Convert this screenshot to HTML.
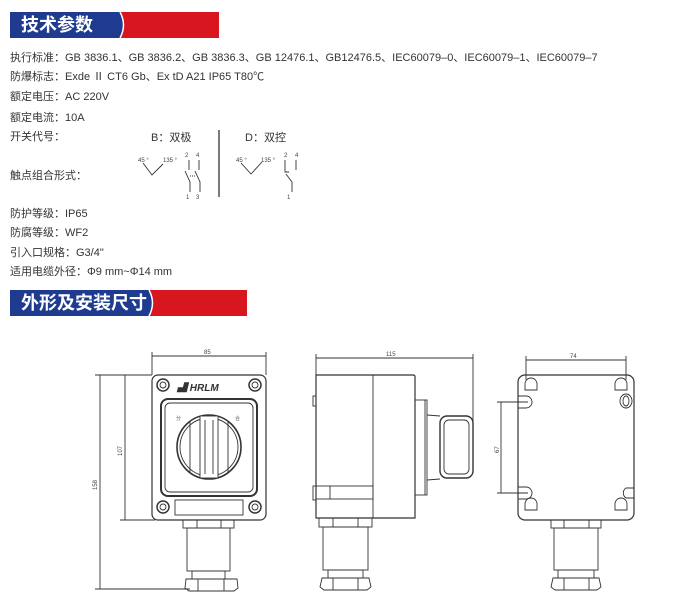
<!DOCTYPE html>
<html><head><meta charset="utf-8"><style>
body{margin:0;width:685px;height:604px;background:#fff;overflow:hidden;font-family:"Liberation Sans","Noto Sans CJK SC",sans-serif;}
.t{position:absolute;left:10px;font-size:11px;color:#333;white-space:nowrap;line-height:12px}
</style></head><body>
<svg width="685" height="604" style="position:absolute;left:0;top:0" font-family="Liberation Sans, Noto Sans CJK SC, sans-serif">
<rect x="10" y="12" width="209" height="26" fill="#d7161f"/>
<path d="M10 12 H120 Q127 25 120 38 H10Z" fill="#1f3b8f"/>
<path d="M120 12 Q127 25 120 38" stroke="#fff" stroke-width="1.5" fill="none"/>
<text x="21" y="31" font-size="18" font-weight="bold" fill="#fff">技术参数</text>
<rect x="10" y="290" width="237" height="26" fill="#d7161f"/>
<path d="M10 290 H149 Q156 303 149 316 H10Z" fill="#1f3b8f"/>
<path d="M149 290 Q156 303 149 316" stroke="#fff" stroke-width="1.5" fill="none"/>
<text x="21" y="309" font-size="18" font-weight="bold" fill="#fff">外形及安装尺寸</text>

<g font-size="11" fill="#333">
<text x="151" y="141">B：双极</text><text x="245" y="141">D：双控</text>
</g>
<line x1="219" y1="130" x2="219" y2="197" stroke="#222" stroke-width="1.2"/>
<g font-size="6" fill="#444">
<text x="138" y="162">45 °</text><text x="163" y="162">135 °</text>
<text x="185" y="157">2</text><text x="196" y="157">4</text>
<text x="186" y="199">1</text><text x="196" y="199">3</text>
<text x="236" y="162">45 °</text><text x="261" y="162">135 °</text>
<text x="284" y="157">2</text><text x="295" y="157">4</text>
<text x="287" y="199">1</text>
</g>
<g stroke="#333" stroke-width="0.9" fill="none">
<path d="M143 163 L152 175 L163 164"/>
<path d="M189 160V170 M199 160V170 M185 171 L190 182 V192 M195 171 L200 182 V192"/>
<path d="M190 176 H196" stroke-dasharray="1,1"/>
<path d="M241 163 L251 174 L262 162"/>
<path d="M285 160V172 H289 M296 160V170 M286 174 L292 182 V192"/>
</g>

<g stroke="#333" stroke-width="0.9" fill="none">
<line x1="152" y1="356" x2="266" y2="356"/><line x1="152" y1="352" x2="152" y2="375"/><line x1="266" y1="352" x2="266" y2="375"/>
<line x1="125" y1="375" x2="125" y2="520"/><line x1="120" y1="375" x2="152" y2="375"/><line x1="120" y1="520" x2="155" y2="520"/>
<line x1="100" y1="375" x2="100" y2="589"/><line x1="95" y1="375" x2="120" y2="375"/><line x1="95" y1="589" x2="190" y2="589"/>
<rect x="152" y="375" width="114" height="145" rx="6" stroke-width="1.2"/>
<rect x="161" y="399" width="96" height="97" rx="7" stroke-width="2"/>
<rect x="165" y="403" width="88" height="89" rx="5"/>
<circle cx="163" cy="385" r="6" stroke-width="1.5"/><circle cx="163" cy="385" r="3"/>
<circle cx="255" cy="385" r="6" stroke-width="1.5"/><circle cx="255" cy="385" r="3"/>
<circle cx="163" cy="507" r="6" stroke-width="1.5"/><circle cx="163" cy="507" r="3"/>
<circle cx="255" cy="507" r="6" stroke-width="1.5"/><circle cx="255" cy="507" r="3"/>
<circle cx="209" cy="447" r="32" stroke-width="1.6"/>
<circle cx="209" cy="447" r="29"/>
<line x1="190" y1="422" x2="190" y2="472"/><line x1="228" y1="422" x2="228" y2="472"/>
<rect x="200" y="416" width="18" height="62" fill="#fff"/>
<line x1="205" y1="420" x2="205" y2="474"/><line x1="213" y1="420" x2="213" y2="474"/>
<rect x="175" y="500" width="68" height="15"/>
<rect x="183" y="520" width="51" height="8"/><line x1="197" y1="520" x2="197" y2="528"/><line x1="221" y1="520" x2="221" y2="528"/>
<rect x="187" y="528" width="43" height="43"/>
<rect x="192" y="571" width="33" height="8"/>
<path d="M186 579 H237 L238 588 L234 591 H189 L185 588Z"/><line x1="198" y1="579" x2="198" y2="591"/><line x1="224" y1="579" x2="224" y2="591"/>
</g>
<text x="177" y="391" font-size="10" font-weight="bold" font-style="italic" fill="#333">▟ HRLM</text>
<text x="176" y="420" font-size="5" fill="#555">分</text><text x="235" y="420" font-size="5" fill="#555">合</text>
<g font-size="6" fill="#444"><text x="204" y="354">85</text>
<text transform="translate(122 456) rotate(-90)">107</text>
<text transform="translate(97 490) rotate(-90)">158</text>
<text x="386" y="356">115</text><text x="570" y="358">74</text>
<text transform="translate(499 453) rotate(-90)">67</text></g>

<g stroke="#333" stroke-width="0.9" fill="none">
<line x1="316" y1="358" x2="473" y2="358"/><line x1="316" y1="354" x2="316" y2="375"/><line x1="473" y1="354" x2="473" y2="425"/>
<path d="M316 375 H413 Q415 375 415 377 V518 H316Z" stroke-width="1.2"/>
<line x1="373" y1="375" x2="373" y2="518"/>
<rect x="313" y="396" width="3" height="10"/><rect x="313" y="486" width="3" height="14"/>
<rect x="316" y="486" width="57" height="13"/><line x1="330" y1="486" x2="330" y2="499"/>
<rect x="415" y="400" width="12" height="95"/><line x1="425" y1="400" x2="425" y2="495"/>
<path d="M427 415 L440 416 M427 480 L440 479"/>
<rect x="440" y="416" width="33" height="62" rx="7" stroke-width="1.4"/>
<rect x="444" y="420" width="25" height="54" rx="5"/>
<rect x="319" y="518" width="53" height="9"/><line x1="333" y1="518" x2="333" y2="527"/><line x1="358" y1="518" x2="358" y2="527"/>
<rect x="323" y="527" width="45" height="43"/>
<rect x="328" y="570" width="35" height="8"/>
<path d="M322 578 H369 L371 587 L367 590 H324 L320 587Z"/><line x1="333" y1="578" x2="333" y2="590"/><line x1="358" y1="578" x2="358" y2="590"/>
</g>

<g stroke="#333" stroke-width="0.9" fill="none">
<line x1="526" y1="360" x2="626" y2="360"/><line x1="526" y1="356" x2="526" y2="380"/><line x1="626" y1="356" x2="626" y2="380"/>
<line x1="501" y1="402" x2="501" y2="493"/><line x1="497" y1="402" x2="528" y2="402"/><line x1="497" y1="493" x2="528" y2="493"/>
<rect x="518" y="375" width="116" height="145" rx="7" stroke-width="1.2"/>
<path d="M525 390 V384 A6 6 0 0 1 537 384 V390Z"/><path d="M615 390 V384 A6 6 0 0 1 627 384 V390Z"/>
<path d="M525 510 V504 A6 6 0 0 1 537 504 V510Z"/><path d="M615 510 V504 A6 6 0 0 1 627 504 V510Z"/>
<path d="M518 396 H526 A6 6 0 0 1 526 408 H518"/>
<path d="M518 487 H526 A6 6 0 0 1 526 499 H518"/>
<path d="M634 488 H626 A6 6 0 0 0 626 498 H634"/>
<ellipse cx="626" cy="401" rx="6" ry="7"/><ellipse cx="626" cy="401" rx="3" ry="5"/>
<rect x="551" y="520" width="50" height="8"/><line x1="564" y1="520" x2="564" y2="528"/><line x1="589" y1="520" x2="589" y2="528"/>
<rect x="554" y="528" width="44" height="42"/>
<rect x="558" y="570" width="36" height="8"/>
<path d="M553 578 H599 L601 587 L597 590 H555 L551 587Z"/><line x1="564" y1="578" x2="564" y2="590"/><line x1="589" y1="578" x2="589" y2="590"/>
</g>
</svg>
<div class="t" style="top:52px">执行标准：GB 3836.1、GB 3836.2、GB 3836.3、GB 12476.1、GB12476.5、IEC60079–0、IEC60079–1、IEC60079–7</div>
<div class="t" style="top:71px">防爆标志：Exde Ⅱ CT6 Gb、Ex tD A21 IP65 T80℃</div>
<div class="t" style="top:91px">额定电压：AC 220V</div>
<div class="t" style="top:112px">额定电流：10A</div>
<div class="t" style="top:131px">开关代号：</div>
<div class="t" style="top:170px">触点组合形式：</div>
<div class="t" style="top:208px">防护等级：IP65</div>
<div class="t" style="top:227px">防腐等级：WF2</div>
<div class="t" style="top:247px">引入口规格：G3/4"</div>
<div class="t" style="top:266px">适用电缆外径：Φ9 mm~Φ14 mm</div>
</body></html>
